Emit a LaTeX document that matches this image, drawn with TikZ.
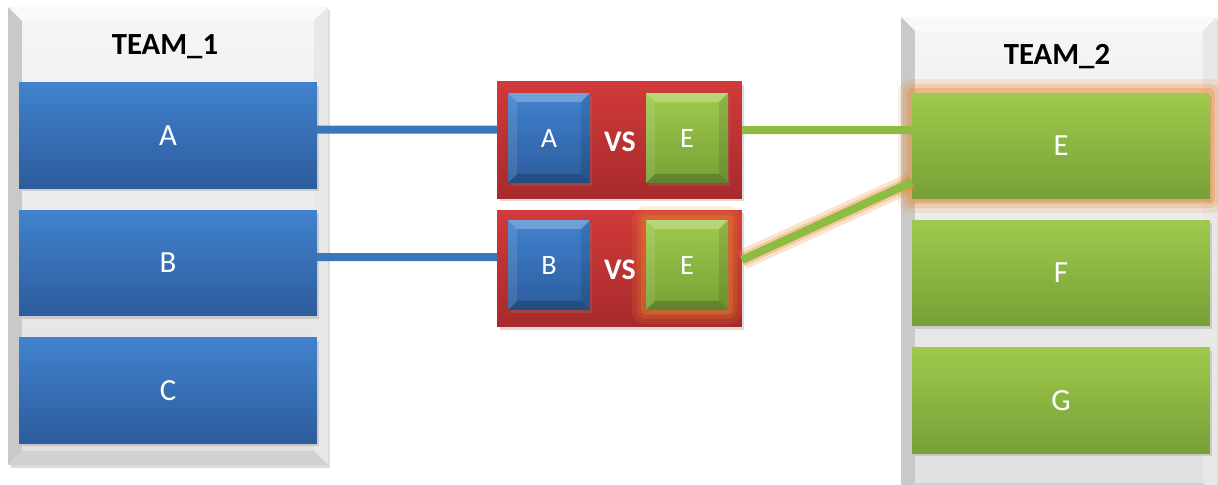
\documentclass[tikz,border=0pt]{standalone}
\usepackage{fontspec}
\setmainfont{Carlito}
\usetikzlibrary{shadows}
\definecolor{bluetop}{HTML}{4182CE}
\definecolor{bluebot}{HTML}{2C5C9C}
\definecolor{greentop}{HTML}{A0CA4C}
\definecolor{greenbot}{HTML}{76A036}
\definecolor{redtop}{HTML}{D03A3A}
\definecolor{redbot}{HTML}{A82A2C}
\definecolor{glowc}{HTML}{E8862A}
\definecolor{bluel}{HTML}{3A76C0}
\definecolor{greenl}{HTML}{8CBC42}
\begin{document}
\begin{tikzpicture}[x=0.02cm,y=-0.02cm,every node/.style={font=\fontsize{17.5}{21}\selectfont,text=white,inner sep=0pt,outer sep=0pt},line width=0.16cm]
\tikzset{shad/.style={drop shadow={opacity=0.28,shadow xshift=0.05cm,shadow yshift=-0.06cm}},
  panel/.style={fill=gray!30,minimum width=#1,shad},
  bigbox/.style={minimum width=5.96cm,minimum height=2.12cm,shad},
  bluebox/.style={bigbox,top color=bluetop,bottom color=bluebot},
  greenbox/.style={bigbox,top color=greentop,bottom color=greenbot},
  vsbox/.style={top color=redtop,bottom color=redbot,minimum width=4.90cm,minimum height=2.33cm,shad},
  sq/.style={minimum width=1.64cm,minimum height=1.80cm,font=\fontsize{16}{19}\selectfont,shad},
  sqblue/.style={sq,top color=bluetop,bottom color=bluebot},
  sqgreen/.style={sq,top color=greentop,bottom color=greenbot},
  title/.style={text=black,font=\fontsize{17.5}{21}\selectfont\bfseries},
  vs/.style={font=\fontsize{17}{20}\selectfont\bfseries},
  glow/.style={preaction={draw=glowc,draw opacity=0.15,line width=0.56cm,line join=round},
    preaction={draw=glowc,draw opacity=0.2,line width=0.38cm,line join=round},
    preaction={draw=glowc,draw opacity=0.3,line width=0.2cm,line join=round}}}
\useasboundingbox (0,0) rectangle (1218,484);
\node[panel=6.40cm,minimum height=9.16cm] (pan1) at (168,236) {};
\node[panel=6.32cm,minimum height=9.60cm] (pan2) at (1059,257) {};
\foreach \p in {pan1,pan2} {
  \fill[gray!5] (\p.north west) -- (\p.north east) -- ([shift={(-14,14)}]\p.north east) -- ([shift={(14,14)}]\p.north west) -- cycle;
  \fill[gray!42] (\p.north west) -- ([shift={(14,14)}]\p.north west) -- ([shift={(14,-14)}]\p.south west) -- (\p.south west) -- cycle;
  \fill[gray!18] (\p.north east) -- ([shift={(-14,14)}]\p.north east) -- ([shift={(-14,-14)}]\p.south east) -- (\p.south east) -- cycle;
  \fill[gray!36] (\p.south west) -- ([shift={(14,-14)}]\p.south west) -- ([shift={(-14,-14)}]\p.south east) -- (\p.south east) -- cycle;
  \shade[top color=gray!8,bottom color=gray!24] ([shift={(14,14)}]\p.north west) rectangle ([shift={(-14,-14)}]\p.south east);
}
\node[title] (t1) at (165,47) {TEAM\_1};
\node[title] (t2) at (1057,57) {TEAM\_2};
\node[bluebox] (tA) at (168,135.5) {A};
\node[bluebox] (tB) at (168,263) {B};
\node[bluebox] (tC) at (168,390.5) {C};
\node[greenbox,glow] (tE) at (1061,146) {E};
\node[greenbox] (tF) at (1061,273) {F};
\node[greenbox] (tG) at (1061,400.5) {G};
\node[vsbox] (vs1) at (619.5,140) {};
\node[vsbox] (vs2) at (619.5,268.5) {};
\draw[bluel] ([yshift=0.12cm]tA.east) -- ([yshift=0.21cm]vs1.west);
\draw[bluel] ([yshift=0.12cm]tB.east) -- ([yshift=0.23cm]vs2.west);
\draw[greenl] ([yshift=0.20cm]vs1.east) -- ([yshift=0.32cm]tE.west);
\draw[glowc,opacity=0.22,line width=0.40cm] ([yshift=0.17cm]vs2.east) -- ([yshift=-0.72cm]tE.west);
\draw[glowc,opacity=0.3,line width=0.26cm] ([yshift=0.17cm]vs2.east) -- ([yshift=-0.72cm]tE.west);
\draw[greenl] ([yshift=0.17cm]vs2.east) -- ([yshift=-0.72cm]tE.west);
\node[sqblue] (sA) at (549,138) {A};
\node[sqgreen] (sE1) at (687,138) {E};
\node[sqblue] (sB) at (549,265) {B};
\node[sqgreen,glow] (sE2) at (687,265) {E};
\foreach \s in {sA,sE1,sB,sE2} {
  \fill[white,opacity=0.25] (\s.north west) -- (\s.north east) -- ([shift={(-9,9)}]\s.north east) -- ([shift={(9,9)}]\s.north west) -- cycle;
  \fill[white,opacity=0.10] (\s.north west) -- ([shift={(9,9)}]\s.north west) -- ([shift={(9,-9)}]\s.south west) -- (\s.south west) -- cycle;
  \fill[black,opacity=0.10] (\s.north east) -- ([shift={(-9,9)}]\s.north east) -- ([shift={(-9,-9)}]\s.south east) -- (\s.south east) -- cycle;
  \fill[black,opacity=0.18] (\s.south west) -- ([shift={(9,-9)}]\s.south west) -- ([shift={(-9,-9)}]\s.south east) -- (\s.south east) -- cycle;
}
\node[vs] (v1) at (620,142) {VS};
\node[vs] (v2) at (620,270) {VS};
\end{tikzpicture}
\end{document}
